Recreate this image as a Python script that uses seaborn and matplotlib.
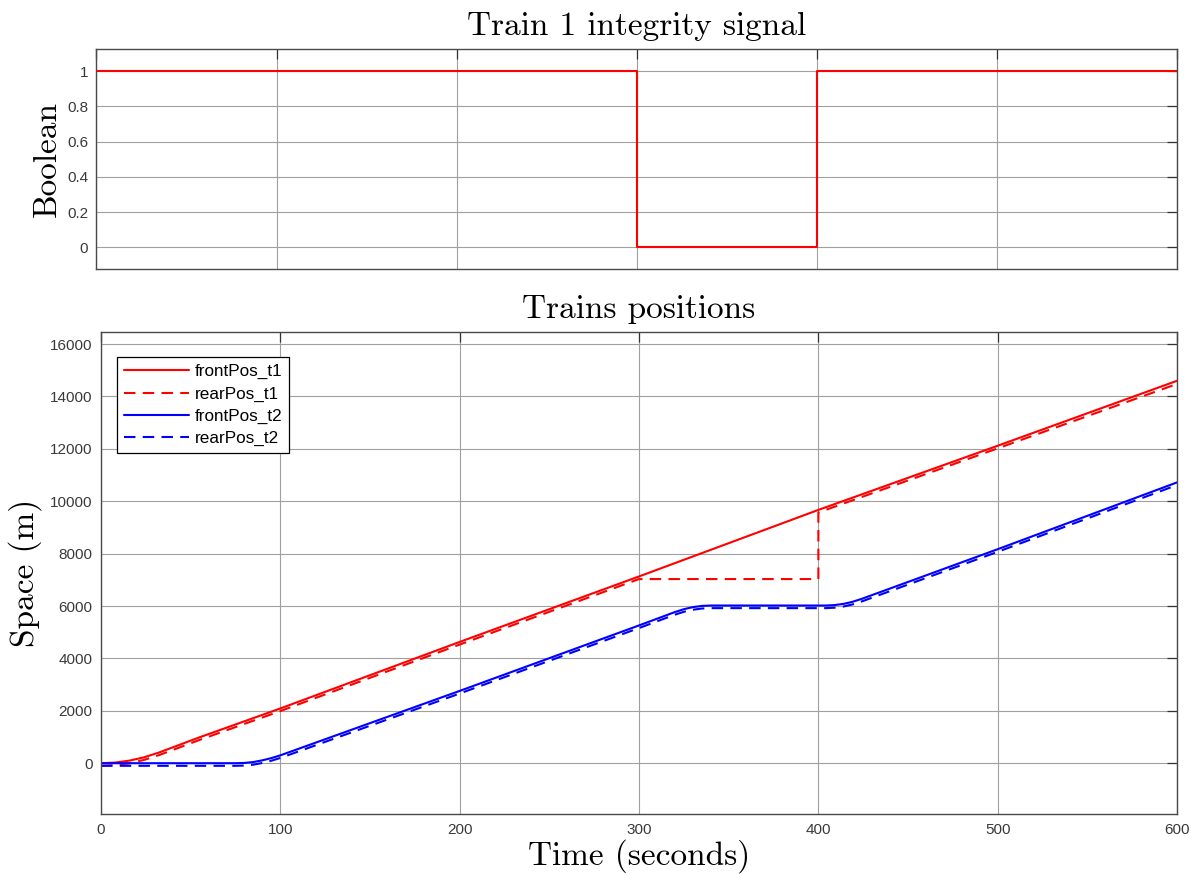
import matplotlib
matplotlib.use("Agg")
import matplotlib.pyplot as plt
import seaborn as sns
import pandas as pd

# ---- data -------------------------------------------------------------
sig_t = [0, 300, 400, 600]
sig_v = [1, 0, 1, 1]

front_t1_t = [0, 8, 16, 24, 32, 55, 100, 200, 300, 400, 500, 600]
front_t1_x = [0, 25, 100, 225, 400, 990, 2090, 4630, 7130, 9670, 12120, 14600]

rear_t1_t = [0, 8, 16, 24, 32, 55, 100, 200, 300, 400, 400, 500, 600]
rear_t1_x = [-100, -75, 0, 125, 300, 890, 1990, 4530, 7030, 7030, 9570, 12020, 14480]

front_t2_t = [0, 75, 80, 85, 90, 95, 100, 200, 300, 320, 325, 330, 335, 340,
              404, 409, 414, 419, 424, 500, 600]
front_t2_x = [0, 0, 10, 45, 110, 195, 300, 2760, 5260, 5770, 5880, 5958, 6005, 6020,
              6020, 6036, 6082, 6161, 6270, 8170, 10720]

rear_t2_t = front_t2_t
rear_t2_x = [-100, -100, -90, -55, 10, 95, 200, 2660, 5160, 5670, 5780, 5858, 5905, 5920,
             5920, 5936, 5982, 6061, 6170, 8070, 10620]

series_names = ["frontPos_t1", "rearPos_t1", "frontPos_t2", "rearPos_t2"]
series_colors = ["#ff0000", "#ff0000", "#0000ff", "#0000ff"]
series_dashed = [False, True, False, True]

bool_ticks = [0, 0.2, 0.4, 0.6, 0.8, 1]
bool_labels = ["0", "0.2", "0.4", "0.6", "0.8", "1"]
space_ticks = [0, 2000, 4000, 6000, 8000, 10000, 12000, 14000, 16000]
space_labels = ["0", "2000", "4000", "6000", "8000", "10000", "12000", "14000", "16000"]
time_ticks = [0, 100, 200, 300, 400, 500, 600]
time_labels = ["0", "100", "200", "300", "400", "500", "600"]

# ---- style ------------------------------------------------------------
sns.set_style("white")
plt.rcParams["font.family"] = ["Liberation Sans", "DejaVu Sans"]
SERIF = ["cmr10", "DejaVu Serif"]
TICK_COLOR = "#3a3a3a"
GRID_COLOR = "#a0a0a0"
LABEL_SIZE = 24

fig = plt.figure(figsize=(12.04, 8.75), dpi=100)
ax1 = fig.add_axes([0.0801, 0.6922, 0.8975, 0.2515])
ax2 = fig.add_axes([0.0839, 0.0694, 0.8937, 0.5508])


def style_axes(ax):
    for sp in ax.spines.values():
        sp.set_color("#4a4a4a")
        sp.set_linewidth(1.0)
    ax.tick_params(direction="in", length=7, width=0.9, top=True, right=True,
                   color="#333333", labelcolor=TICK_COLOR, labelsize=11, pad=6)
    ax.grid(True, color=GRID_COLOR, linewidth=0.8)
    ax.set_axisbelow(True)


# ---- top: integrity signal ---------------------------------------------
sig_df = pd.DataFrame({"t": sig_t, "v": sig_v})
sns.lineplot(data=sig_df, x="t", y="v", ax=ax1, color="#ff0000", linewidth=1.5,
             drawstyle="steps-post", estimator=None, sort=False)
ax1.set_xlim(0, 600)
ax1.set_ylim(-0.125, 1.125)
ax1.set_xticks(time_ticks)
ax1.set_xticklabels([])
ax1.set_yticks(bool_ticks)
ax1.set_yticklabels(bool_labels)
style_axes(ax1)
ax1.set_xlabel("")
ax1.set_ylabel("Boolean", family=SERIF, fontsize=LABEL_SIZE, color="black", labelpad=4)
ax1.set_title("Train 1 integrity signal", family=SERIF, fontsize=LABEL_SIZE,
              color="black", pad=10)

# ---- bottom: positions ---------------------------------------------------
all_t = [front_t1_t, rear_t1_t, front_t2_t, rear_t2_t]
all_x = [front_t1_x, rear_t1_x, front_t2_x, rear_t2_x]
for name, tt, xx, col, dashed in zip(series_names, all_t, all_x, series_colors, series_dashed):
    df = pd.DataFrame({"t": tt, "x": xx})
    sns.lineplot(data=df, x="t", y="x", ax=ax2, color=col, linewidth=1.5,
                 estimator=None, sort=False, label=name,
                 linestyle=(0, (5.5, 3.5)) if dashed else "-")

ax2.set_xlim(0, 600)
ax2.set_ylim(-1950, 16450)
ax2.set_xticks(time_ticks)
ax2.set_xticklabels(time_labels)
ax2.set_yticks(space_ticks)
ax2.set_yticklabels(space_labels)
style_axes(ax2)
ax2.set_xlabel("Time (seconds)", family=SERIF, fontsize=LABEL_SIZE, color="black", labelpad=2)
ax2.set_ylabel("Space (m)", family=SERIF, fontsize=LABEL_SIZE, color="black", labelpad=6)
ax2.set_title("Trains positions", family=SERIF, fontsize=LABEL_SIZE, color="black", pad=10)

leg = ax2.legend(loc="upper left", bbox_to_anchor=(0.0151, 0.948), borderaxespad=0,
                 fontsize=12.3, frameon=True, fancybox=False, handlelength=3.8,
                 handletextpad=0.35, labelspacing=0.42, borderpad=0.4)
leg.get_frame().set_edgecolor("#000000")
leg.get_frame().set_linewidth(0.9)
leg.get_frame().set_alpha(1)
for txt in leg.get_texts():
    txt.set_color("black")

fig.savefig("out.png", dpi=100)
